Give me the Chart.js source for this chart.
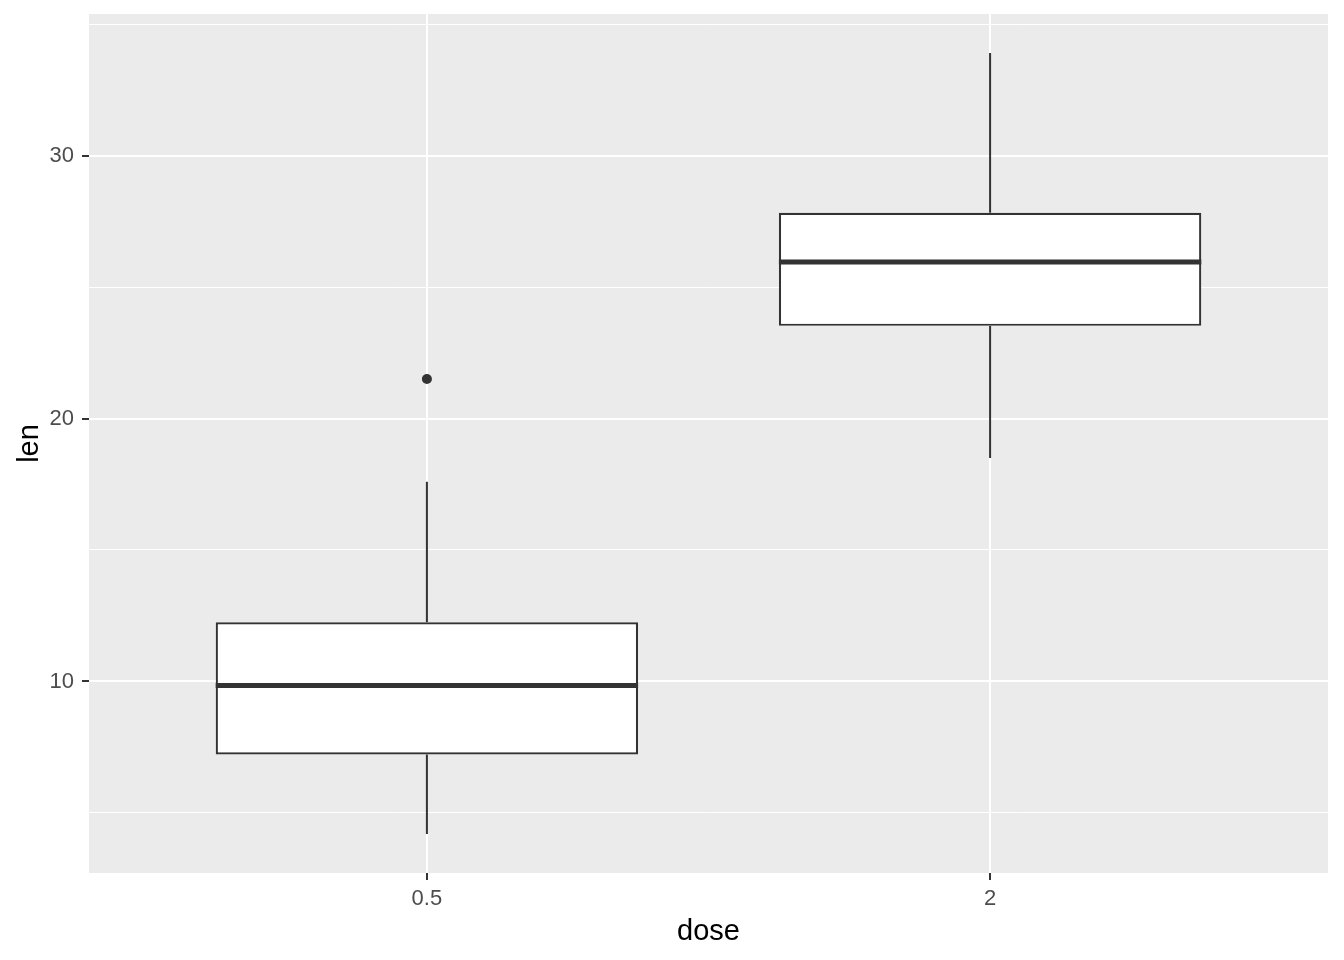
<!DOCTYPE html>
<html>
<head>
<meta charset="utf-8">
<script src="https://cdn.jsdelivr.net/npm/chart.js@4.4.1/dist/chart.umd.min.js"></script>
<style>
  html, body { margin: 0; padding: 0; background: #ffffff; }
  #wrap { width: 1344px; height: 960px; }
</style>
</head>
<body>
<div id="wrap"><canvas id="c" width="1344" height="960"></canvas></div>
<script>
// ---- data (ToothGrowth len by dose) ----
const doses = ['0.5', '2'];
const dosePositions = [1, 2];
const lowerWhisker = [4.2, 18.5];
const q1 = [7.225, 23.525];
const median = [9.85, 25.95];
const q3 = [12.25, 27.825];
const upperWhisker = [17.6, 33.9];
const outliers = [[21.5], []];
const yMajorTicks = [10, 20, 30];
const yMinorTicks = [5, 15, 25, 35];
const yRange = [2.715, 35.385];
const xRange = [0.4, 2.6];
const boxWidth = 0.75;

// ---- build datasets ----
const boxData = dosePositions.map((x, i) => ({ x: x, y: [q1[i], q3[i]] }));
const medianData = [];
const whiskerData = [];
const outlierData = [];
dosePositions.forEach((x, i) => {
  medianData.push({ x: x - boxWidth / 2, y: median[i] }, { x: x + boxWidth / 2, y: median[i] }, { x: NaN, y: NaN });
  whiskerData.push({ x: x, y: q3[i] }, { x: x, y: upperWhisker[i] }, { x: NaN, y: NaN });
  whiskerData.push({ x: x, y: lowerWhisker[i] }, { x: x, y: q1[i] }, { x: NaN, y: NaN });
  outliers[i].forEach(v => outlierData.push({ x: x, y: v }));
});

const FONT = "'Liberation Sans', Arial, sans-serif";
const DARK = '#333333';

const panelBg = {
  id: 'panelBg',
  beforeDraw(chart) {
    const { ctx, chartArea: a } = chart;
    ctx.save();
    ctx.fillStyle = '#EBEBEB';
    ctx.fillRect(a.left, a.top, a.right - a.left, a.bottom - a.top);
    ctx.restore();
  }
};

const isMajor = v => yMajorTicks.includes(v);

new Chart(document.getElementById('c'), {
  type: 'bar',
  data: {
    datasets: [
      {
        type: 'line', label: 'median', data: medianData,
        borderColor: DARK, borderWidth: 5, pointRadius: 0, spanGaps: false,
        borderCapStyle: 'butt'
      },
      {
        type: 'scatter', label: 'outliers', data: outlierData,
        backgroundColor: DARK, borderColor: DARK, pointRadius: 5, pointBorderWidth: 0
      },
      {
        type: 'bar', label: 'box', data: boxData,
        backgroundColor: '#FFFFFF', borderColor: DARK, borderWidth: 2.2,
        borderSkipped: false, categoryPercentage: boxWidth, barPercentage: 1.0
      },
      {
        type: 'line', label: 'whiskers', data: whiskerData,
        borderColor: DARK, borderWidth: 2, pointRadius: 0, spanGaps: false,
        borderCapStyle: 'butt'
      }
    ]
  },
  options: {
    responsive: false,
    animation: false,
    events: [],
    layout: { padding: { top: 14, right: 16, left: 0, bottom: 0 } },
    plugins: { legend: { display: false }, tooltip: { enabled: false } },
    scales: {
      x: {
        type: 'linear',
        min: xRange[0], max: xRange[1],
        offset: false,
        afterBuildTicks(scale) { scale.ticks = dosePositions.map(v => ({ value: v })); },
        afterFit(scale) { scale.height = 87; scale.paddingLeft = 0; scale.paddingRight = 0; },
        ticks: {
          callback(value) { const i = dosePositions.indexOf(value); return i >= 0 ? doses[i] : ''; },
          color: '#4D4D4D', font: { family: FONT, size: 22 }, padding: 6, maxRotation: 0, autoSkip: false
        },
        grid: {
          offset: false, color: '#FFFFFF', lineWidth: 2,
          drawTicks: true, tickLength: 7, tickColor: DARK, tickWidth: 2
        },
        border: { display: false },
        title: {
          display: true, text: 'dose', color: '#000000',
          font: { family: FONT, size: 29 }, padding: { top: 0, bottom: 11 }
        }
      },
      y: {
        type: 'linear',
        min: yRange[0], max: yRange[1],
        beginAtZero: false,
        afterBuildTicks(scale) {
          scale.ticks = yMinorTicks.concat(yMajorTicks).sort((a, b) => a - b).map(v => ({ value: v }));
        },
        afterFit(scale) { scale.width = 89; scale.paddingTop = 0; scale.paddingBottom = 0; },
        ticks: {
          callback(value) { return isMajor(value) ? String(value) : ''; },
          color: '#4D4D4D', font: { family: FONT, size: 22 }, padding: 8, autoSkip: false
        },
        grid: {
          color: '#FFFFFF',
          lineWidth: ctx => (ctx.tick && isMajor(ctx.tick.value)) ? 2 : 1,
          drawTicks: true, tickLength: 7,
          tickColor: ctx => (ctx.tick && isMajor(ctx.tick.value)) ? DARK : 'rgba(0,0,0,0)',
          tickWidth: 2
        },
        border: { display: false },
        title: {
          display: true, text: 'len', color: '#000000',
          font: { family: FONT, size: 29 }, padding: { top: 13, bottom: 0 }
        }
      }
    }
  },
  plugins: [panelBg]
});
</script>
</body>
</html>
